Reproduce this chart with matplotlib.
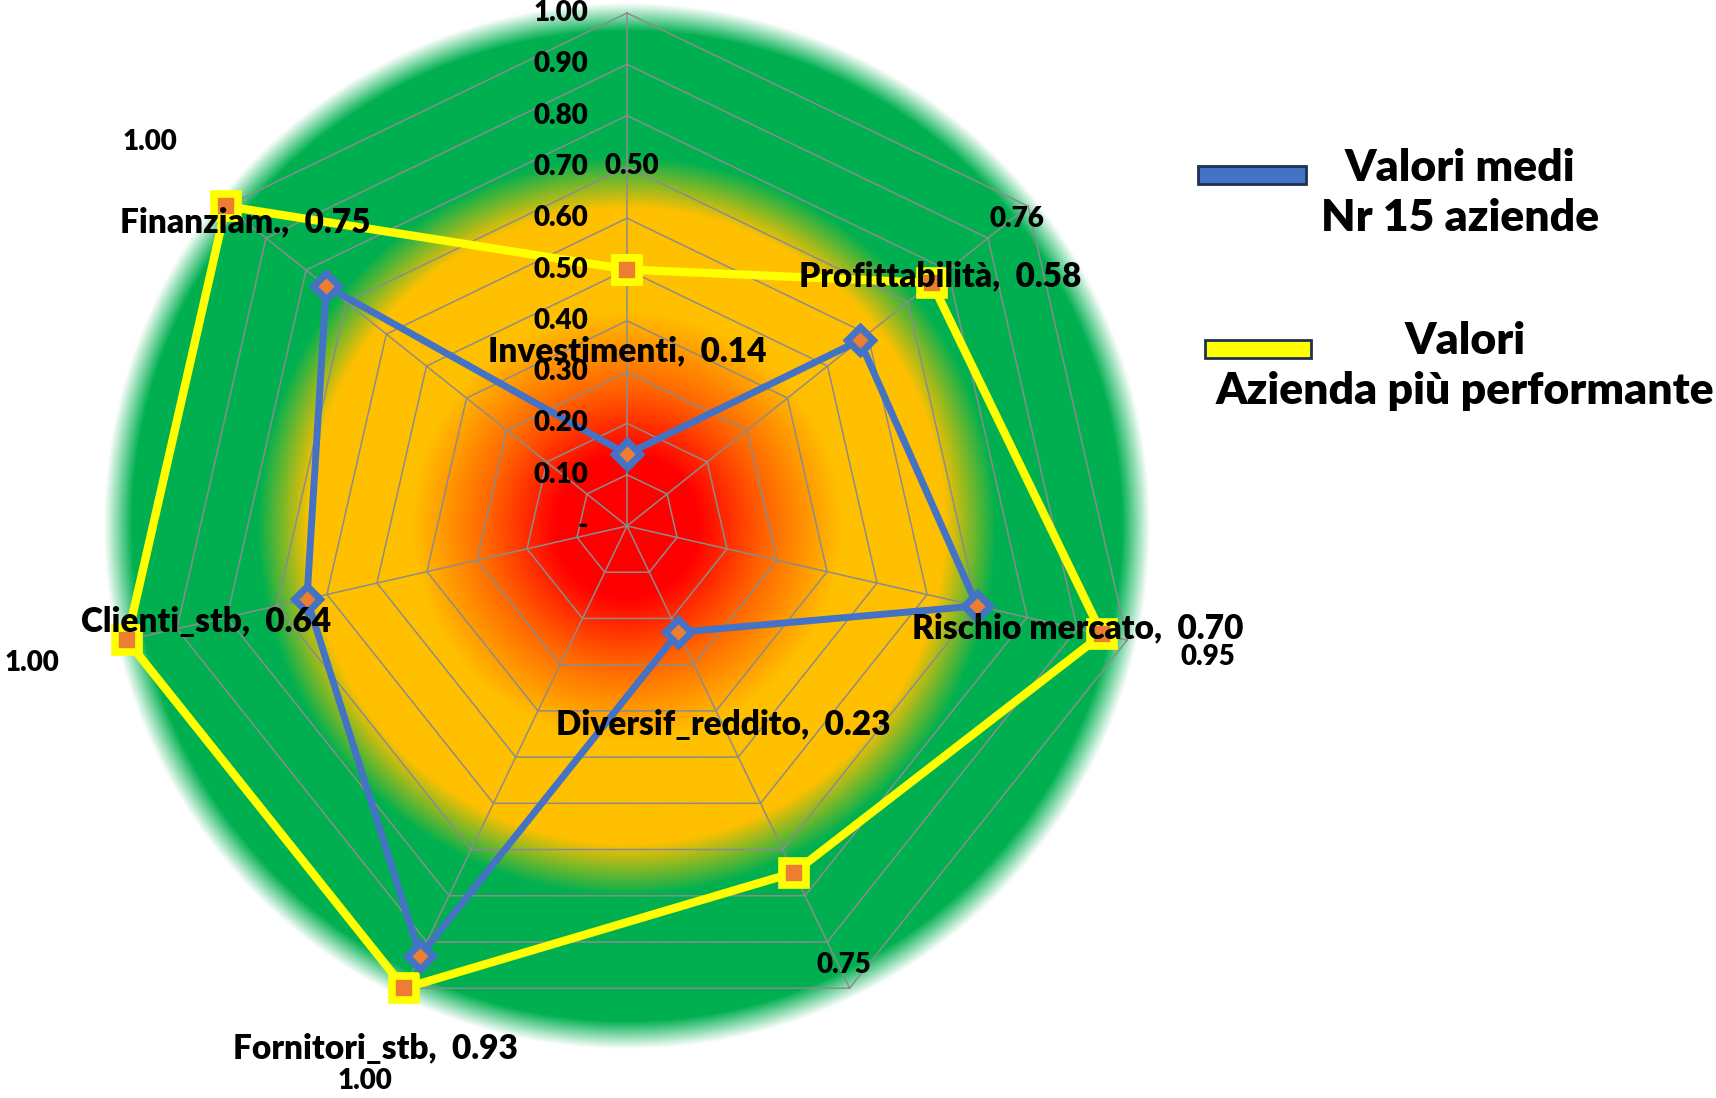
import numpy as np
import matplotlib.pyplot as plt
from matplotlib.patches import Rectangle

plt.rcParams['font.family'] = ['Lato', 'DejaVu Sans']
plt.rcParams['font.weight'] = 'heavy'

# data
categories = ['Investimenti', 'Profittabilità', 'Rischio mercato', 'Diversif_reddito',
              'Fornitori_stb', 'Clienti_stb', 'Finanziam.']
medi = [0.14, 0.58, 0.70, 0.23, 0.93, 0.64, 0.75]
migliore = [0.50, 0.76, 0.95, 0.75, 1.00, 1.00, 1.00]
ticks = [0.0, 0.1, 0.2, 0.3, 0.4, 0.5, 0.6, 0.7, 0.8, 0.9, 1.0]
tick_labels = ['-', '0.10', '0.20', '0.30', '0.40', '0.50', '0.60', '0.70', '0.80', '0.90', '1.00']
legend_labels = ['Valori medi\nNr 15 aziende', 'Valori\nAzienda più performante']

W, H = 1716, 1098
cx, cy, R = 627, 526, 513   # centre / radius of the radar in pixels
lim = 1.06

fig = plt.figure(figsize=(W / 100, H / 100), dpi=100)
half = R * lim
ax = fig.add_axes([(cx - half) / W, (H - cy - half) / H, 2 * half / W, 2 * half / H])
ax.set_xlim(-lim, lim)
ax.set_ylim(-lim, lim)
ax.set_aspect('equal')
ax.axis('off')

# radial colour background (red -> orange -> green, soft edge)
stops = [0.0, 0.14, 0.27, 0.42, 0.62, 0.72, 0.965, 1.02]
cols = ['#FF0000', '#FF0000', '#FF6400', '#FFC000', '#FFC000', '#00B050', '#00B050', '#FFFFFF']
rgb = np.array([[int(c[i:i + 2], 16) / 255 for i in (1, 3, 5)] for c in cols])
g = np.linspace(-lim, lim, 1200)
X, Y = np.meshgrid(g, g)
Rr = np.hypot(X, Y)
img = np.dstack([np.interp(Rr, stops, rgb[:, k]) for k in range(3)])
ax.imshow(img, extent=(-lim, lim, -lim, lim), origin='lower', interpolation='bilinear', zorder=0)

n = len(categories)
ang = np.arange(n) * 2 * np.pi / n
sx, sy = np.sin(ang), np.cos(ang)

# heptagon grid
grid_col = '#8C8C8C'
for t in ticks[1:]:
    ax.plot(np.append(t * sx, t * sx[0]), np.append(t * sy, t * sy[0]), color=grid_col, lw=1.1, zorder=1)
for i in range(n):
    ax.plot([0, sx[i]], [0, sy[i]], color=grid_col, lw=1.1, zorder=1)

# radial tick labels
for t, lab in zip(ticks, tick_labels):
    ax.annotate(lab, xy=(0, t), xytext=(-39, 0), textcoords='offset pixels',
                ha='right', va='center', fontsize=20, zorder=5)

# series
def closed(v, s):
    v = np.asarray(v)
    return np.append(v * s, v[0] * s[0])

ax.plot(closed(migliore, sx), closed(migliore, sy), color='#FFFF00', lw=6, zorder=3,
        marker='s', ms=17, mfc='#ED7D31', mec='#FFFF00', mew=5.5)
ax.plot(closed(medi, sx), closed(medi, sy), color='#4472C4', lw=5, zorder=4,
        marker='D', ms=13, mfc='#ED7D31', mec='#4472C4', mew=5)

# data labels
off = 103
for i in range(n):
    ax.annotate(f'{categories[i]},  {medi[i]:.2f}', xy=(medi[i] * sx[i], medi[i] * sy[i]),
                xytext=(off * sx[i], off * sy[i]), textcoords='offset pixels',
                ha='center', va='center', fontsize=24, zorder=6)
    ax.annotate(f'{migliore[i]:.2f}', xy=(migliore[i] * sx[i], migliore[i] * sy[i]),
                xytext=(off * sx[i] + 5, off * sy[i]), textcoords='offset pixels',
                ha='center', va='center', fontsize=20, zorder=6)

# legend
leg = [((1198, 166, 108, 18), '#4472C4', (1460, 193)),
       ((1205, 340, 106, 18), '#FFFF00', (1465, 366))]
for (x0, y0, w, h), c, (tx, ty) in leg:
    fig.patches.append(Rectangle((x0 / W, 1 - (y0 + h) / H), w / W, h / H, transform=fig.transFigure,
                                 facecolor=c, edgecolor='#1F2F55', lw=2))
for ((x0, y0, w, h), c, (tx, ty)), lab in zip(leg, legend_labels):
    fig.text(tx / W, 1 - ty / H, lab, ha='center', va='center', multialignment='center',
             fontsize=32, linespacing=1.3)

fig.savefig('out.png', dpi=100)
